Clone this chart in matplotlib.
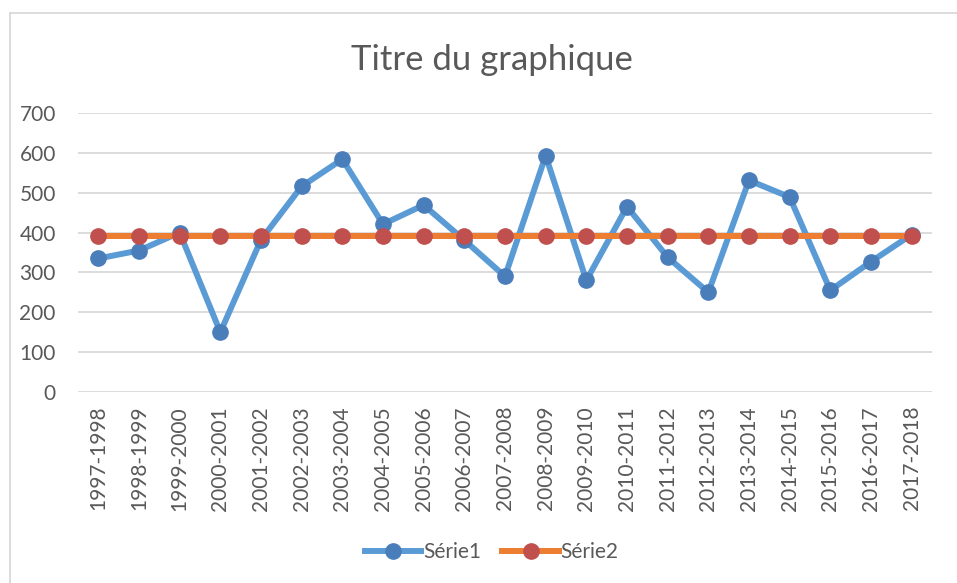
import matplotlib
matplotlib.use("Agg")
import matplotlib.pyplot as plt
from matplotlib.lines import Line2D

# données
categories = ["1997-1998", "1998-1999", "1999-2000", "2000-2001", "2001-2002",
              "2002-2003", "2003-2004", "2004-2005", "2005-2006", "2006-2007",
              "2007-2008", "2008-2009", "2009-2010", "2010-2011", "2011-2012",
              "2012-2013", "2013-2014", "2014-2015", "2015-2016", "2016-2017",
              "2017-2018"]
serie1 = [335, 355, 400, 150, 382, 516, 584, 421, 469, 381,
          290, 593, 280, 465, 338, 250, 531, 489, 255, 327, 395]
serie2 = [391] * len(categories)
yticks = [0, 100, 200, 300, 400, 500, 600, 700]

plt.rcParams["font.family"] = ["Lato", "DejaVu Sans"]
txt = "#595959"
grid = "#D9D9D9"

fig = plt.figure(figsize=(9.57, 5.83), dpi=100)
ax = fig.add_axes([78 / 957, 1 - 392 / 583, (932 - 78) / 957, (392 - 113) / 583])

x = list(range(len(categories)))
ax.plot(x, serie1, color="#5B9BD5", lw=4.3, marker="o", ms=11,
        mfc="#4A7EBB", mec="#4A7EBB", zorder=3, label="Série1")
ax.plot(x, serie2, color="#ED7D31", lw=4.3, marker="o", ms=11,
        mfc="#C0504D", mec="#C0504D", zorder=4, label="Série2")

ax.set_xlim(-0.5, len(categories) - 0.5)
ax.set_ylim(0, 700)
ax.set_yticks(yticks)
ax.set_xticks(x)
ax.set_xticklabels(categories, rotation=90)
ax.tick_params(axis="both", length=0, labelsize=15, colors=txt)
ax.tick_params(axis="y", pad=16)
ax.tick_params(axis="x", pad=10)
for s in ax.spines.values():
    s.set_visible(False)
ax.yaxis.grid(True, color=grid, lw=1.3)
ax.set_axisbelow(True)

# titre + légende
fig.text(492 / 957, 1 - 70 / 583, "Titre du graphique", fontsize=25,
         color=txt, ha="center", va="baseline")
fig.legend(loc="center", bbox_to_anchor=(492 / 957, 1 - 552 / 583), ncol=2,
           frameon=False, fontsize=15, labelcolor=txt, handlelength=2.7,
           handletextpad=0.1, columnspacing=1.0)

# bordure du graphique (coupée à droite et en bas)
fig.add_artist(Line2D([10 / 957, 10 / 957], [0, 1 - 13 / 583], color=grid, lw=1.3))
fig.add_artist(Line2D([10 / 957, 1], [1 - 13 / 583, 1 - 13 / 583], color=grid, lw=1.3))

fig.savefig("out.png", dpi=100)
